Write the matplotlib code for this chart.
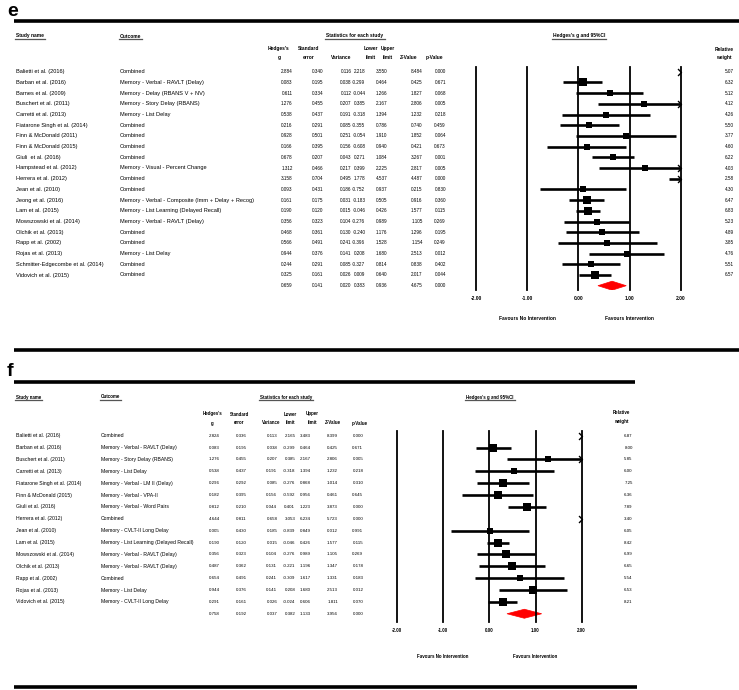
import matplotlib
matplotlib.use("Agg")
import matplotlib.pyplot as plt
from matplotlib import font_manager
from matplotlib.path import Path
from matplotlib.transforms import blended_transform_factory
import numpy as np

# ---------------- panel e ----------------
studies_e = ["Balietti et al. (2016)", "Barban et al. (2016)", "Barnes et al. (2009)",
             "Buschert et al. (2011)", "Carretti et al. (2013)", "Fiatarone Singh et al. (2014)",
             "Finn & McDonald (2011)", "Finn & McDonald (2015)", "Giuli  et al. (2016)",
             "Hampstead et al. (2012)", "Herrera et al. (2012)", "Jean et al. (2010)",
             "Jeong et al. (2016)", "Lam et al. (2015)", "Mowszowski et al. (2014)",
             "Olchik et al. (2013)", "Rapp et al. (2002)", "Rojas et al. (2013)",
             "Schmitter-Edgecombe et al. (2014)", "Vidovich et al. (2015)"]
outcomes_e = ["Combined", "Memory - Verbal - RAVLT (Delay)", "Memory - Delay (RBANS V + NV)",
              "Memory - Story Delay (RBANS)", "Memory - List Delay", "Combined", "Combined",
              "Combined", "Combined", "Memory - Visual - Percent Change", "Combined", "Combined",
              "Memory - Verbal - Composite (Imm + Delay + Recog)",
              "Memory - List Learning (Delayed Recall)", "Memory - Verbal - RAVLT (Delay)",
              "Combined", "Combined", "Memory - List Delay", "Combined", "Combined"]
g_e = [2.884, 0.083, 0.611, 1.276, 0.538, 0.216, 0.928, 0.166, 0.678, 1.312,
       3.158, 0.093, 0.161, 0.190, 0.356, 0.468, 0.566, 0.944, 0.244, 0.325]
se_e = [0.340, 0.195, 0.334, 0.455, 0.437, 0.291, 0.501, 0.395, 0.207, 0.466,
        0.704, 0.431, 0.175, 0.120, 0.323, 0.361, 0.491, 0.376, 0.291, 0.161]
var_e = [0.116, 0.038, 0.112, 0.207, 0.191, 0.085, 0.251, 0.156, 0.043, 0.217,
         0.495, 0.186, 0.031, 0.015, 0.104, 0.130, 0.241, 0.141, 0.085, 0.026]
lo_e = [2.218, -0.299, -0.044, 0.385, -0.318, -0.355, -0.054, -0.608, 0.271, 0.399,
        1.778, -0.752, -0.183, -0.046, -0.276, -0.240, -0.396, 0.208, -0.327, 0.009]
hi_e = [3.550, 0.464, 1.266, 2.167, 1.394, 0.786, 1.910, 0.940, 1.084, 2.225,
        4.537, 0.937, 0.505, 0.426, 0.989, 1.176, 1.528, 1.680, 0.814, 0.640]
z_e = [8.484, 0.425, 1.827, 2.806, 1.232, 0.740, 1.852, 0.421, 3.267, 2.817,
       4.487, 0.215, 0.916, 1.577, 1.105, 1.296, 1.154, 2.513, 0.838, 2.017]
p_e = [0.000, 0.671, 0.068, 0.005, 0.218, 0.459, 0.064, 0.673, 0.001, 0.005,
       0.000, 0.830, 0.360, 0.115, 0.269, 0.195, 0.249, 0.012, 0.402, 0.044]
w_e = [5.07, 6.32, 5.12, 4.12, 4.26, 5.50, 3.77, 4.60, 6.22, 4.03,
       2.58, 4.30, 6.47, 6.83, 5.23, 4.89, 3.85, 4.76, 5.51, 6.57]
summary_e = [0.659, 0.141, 0.020, 0.383, 0.936, 4.675, 0.000]

# ---------------- panel f ----------------
studies_f = ["Balietti et al. (2016)", "Barban et al. (2016)", "Buschert et al. (2011)",
             "Carretti et al. (2013)", "Fiatarone Singh et al. (2014)", "Finn & McDonald (2015)",
             "Giuli et al. (2016)", "Herrera et al. (2012)", "Jean et al. (2010)",
             "Lam et al. (2015)", "Mowszowski et al. (2014)", "Olchik et al. (2013)",
             "Rapp et al. (2002)", "Rojas et al. (2013)", "Vidovich et al. (2015)"]
outcomes_f = ["Combined", "Memory - Verbal - RAVLT (Delay)", "Memory - Story Delay (RBANS)",
              "Memory - List Delay", "Memory - Verbal - LM II (Delay)", "Memory - Verbal - VPA-II",
              "Memory - Verbal - Word Pairs", "Combined", "Memory - CVLT-II Long Delay",
              "Memory - List Learning (Delayed Recall)", "Memory - Verbal - RAVLT (Delay)",
              "Memory - Verbal - RAVLT (Delay)", "Combined", "Memory - List Delay",
              "Memory - CVLT-II Long Delay"]
g_f = [2.824, 0.083, 1.276, 0.538, 0.296, 0.182, 0.812, 4.644, 0.005, 0.190,
       0.356, 0.487, 0.654, 0.944, 0.291]
se_f = [0.336, 0.195, 0.455, 0.437, 0.292, 0.395, 0.210, 0.811, 0.430, 0.120,
        0.323, 0.362, 0.491, 0.376, 0.161]
var_f = [0.113, 0.038, 0.207, 0.191, 0.085, 0.156, 0.044, 0.658, 0.185, 0.015,
         0.104, 0.131, 0.241, 0.141, 0.026]
lo_f = [2.165, -0.299, 0.385, -0.318, -0.276, -0.592, 0.401, 3.053, -0.839, -0.046,
        -0.276, -0.221, -0.309, 0.208, -0.024]
hi_f = [3.483, 0.464, 2.167, 1.394, 0.868, 0.956, 1.223, 6.234, 0.849, 0.426,
        0.989, 1.196, 1.617, 1.680, 0.606]
z_f = [8.399, 0.425, 2.806, 1.232, 1.014, 0.461, 3.873, 5.723, 0.012, 1.577,
       1.105, 1.347, 1.331, 2.513, 1.811]
p_f = [0.000, 0.671, 0.005, 0.218, 0.310, 0.645, 0.000, 0.000, 0.991, 0.115,
       0.269, 0.178, 0.183, 0.012, 0.070]
w_f = [6.87, 8.00, 5.85, 6.00, 7.25, 6.36, 7.89, 3.40, 6.05, 8.42,
       6.99, 6.65, 5.54, 6.53, 8.21]
summary_f = [0.758, 0.192, 0.037, 0.382, 1.133, 3.956, 0.000]

col_heads = ["Hedges's\ng", "Standard\nerror", "Variance", "Lower\nlimit",
             "Upper\nlimit", "Z-Value", "p-Value"]
ticks = [-2, -1, 0, 1, 2]
tick_labels = ["-2.00", "-1.00", "0.00", "1.00", "2.00"]

# narrow font if there is one, else plain Arial-metric font a bit smaller
names = set(f.name for f in font_manager.fontManager.ttflist)
if "Liberation Sans Narrow" in names:
    FONT, FS = "Liberation Sans Narrow", 1.0
else:
    FONT, FS = "Liberation Sans", 0.82
plt.rcParams["font.family"] = [FONT, "DejaVu Sans"]

W, H = 739, 690
fig = plt.figure(figsize=(W / 100, H / 100), dpi=100)
bg = fig.add_axes([0, 0, 1, 1])
bg.set_xlim(0, W)
bg.set_ylim(H, 0)
bg.axis("off")

chev_r = Path([(-1, 1), (0, 0), (-1, -1)], [Path.MOVETO, Path.LINETO, Path.LINETO])
chev_l = Path([(1, 1), (0, 0), (1, -1)], [Path.MOVETO, Path.LINETO, Path.LINETO])

underline_me = []


def rule(y, x0, x1):
    bg.plot([x0, x1], [y, y], color="black", lw=2.6, solid_capstyle="butt")


def panel(studies, outcomes, stats, weights, summary, L):
    fs = L["fs"] * FS
    nfs = L["nfs"] * FS
    hfs = L["hfs"] * FS
    bg.text(7, L["label_y"], L["label"], fontsize=14, fontweight="bold",
            family="Liberation Sans", va="center")
    for y, x0, x1 in L["rules"]:
        rule(y, x0, x1)

    # headers
    for x, s, ha in [(L["name_x"], "Study name", "left"), (L["out_x"], "Outcome", "left"),
                     (L["stats_x"], "Statistics for each study", "center"),
                     (L["ci_x"], "Hedges's g and 95%CI", "center")]:
        t = bg.text(x, L["title_y"], s, ha=ha, va="center", fontsize=hfs, fontweight="bold")
        underline_me.append(t)
    for x, s in zip(L["head_x"], col_heads):
        parts = s.split("\n")
        if len(parts) == 2:
            bg.text(x, L["head_y1"], parts[0], ha="center", va="center", fontsize=hfs, fontweight="bold")
            bg.text(x, L["head_y2"], parts[1], ha="center", va="center", fontsize=hfs, fontweight="bold")
        else:
            bg.text(x, L["head_y2"], s, ha="center", va="center", fontsize=hfs, fontweight="bold")
    wx, wy1, wy2 = L["w_head"]
    bg.text(wx, wy1, "Relative", ha="center", va="center", fontsize=hfs, fontweight="bold")
    bg.text(wx, wy2, "weight", ha="center", va="center", fontsize=hfs, fontweight="bold")

    # table rows
    n = len(studies)
    for i in range(n):
        y = L["row0"] + i * L["step"]
        bg.text(L["name_x"], y, studies[i], va="center", fontsize=fs)
        bg.text(L["out_x"], y, outcomes[i], va="center", fontsize=fs)
        for x, col in zip(L["val_x"], stats):
            bg.text(x, y, "%.3f" % col[i], ha="right", va="center", fontsize=nfs)
        bg.text(L["w_x"], y, "%.2f" % weights[i], ha="right", va="center", fontsize=nfs)
    y = L["row0"] + n * L["step"]
    for x, v in zip(L["val_x"], summary):
        bg.text(x, y, "%.3f" % v, ha="right", va="center", fontsize=nfs)

    # forest plot
    left, right, top, bottom = L["forest"]
    fx = fig.add_axes([left / W, 1 - bottom / H, (right - left) / W, (bottom - top) / H])
    fx.set_xlim(-2, 2)
    fx.set_ylim((bottom - L["row0"]) / L["step"], (top - L["row0"]) / L["step"])
    fx.patch.set_visible(False)
    for s in fx.spines.values():
        s.set_visible(False)
    fx.set_yticks([])
    fx.set_xticks(ticks)
    fx.set_xticklabels(tick_labels, fontsize=hfs, fontweight="bold")
    fx.tick_params(axis="x", length=0, pad=L["tick_pad"])
    for t in ticks:
        fx.axvline(t, color="black", lw=1.3, clip_on=False)

    g, lo, hi = stats[0], stats[3], stats[4]
    for i in range(n):
        a, b = max(lo[i], -2), min(hi[i], 2)
        if a < b:
            fx.plot([a, b], [i, i], color="black", lw=1.9, solid_capstyle="butt", clip_on=False)
        if hi[i] > 2:
            fx.plot(2, i, marker=chev_r, ms=5, mfc="none", mec="black", mew=1.0, clip_on=False)
        if lo[i] < -2:
            fx.plot(-2, i, marker=chev_l, ms=5, mfc="none", mec="black", mew=1.0, clip_on=False)
        if -2 <= g[i] <= 2:
            fx.plot(g[i], i, marker="s", ms=L["ksq"] * np.sqrt(weights[i]) * 0.72,
                    color="black", mew=0, clip_on=False)
    d = L["dh"]
    fx.fill([summary[3], summary[0], summary[4], summary[0]], [n, n - d, n, n + d],
            color="red", lw=0.5, ec="red")

    tr = blended_transform_factory(fx.transData, bg.transData)
    bg.text(-1, L["fav_y"], "Favours No Intervention", transform=tr, ha="center",
            va="center", fontsize=hfs, fontweight="bold")
    bg.text(1, L["fav_y"], "Favours Intervention", transform=tr, ha="center",
            va="center", fontsize=hfs, fontweight="bold")


lay_e = dict(label="e", label_y=11, rules=[(20.7, 14, 739), (350, 14, 739)],
             fs=4.9, nfs=4.1, hfs=4.3,
             name_x=16, out_x=120, stats_x=355, ci_x=579, title_y=36,
             head_x=[279, 308.7, 340.7, 370.5, 387.5, 409, 434], head_y1=48.7, head_y2=57.3,
             w_head=(724, 49.3, 57.7),
             val_x=[292.7, 323, 351.7, 365.3, 387.3, 422.7, 446], w_x=734,
             row0=71.7, step=10.7, forest=(476, 680.7, 66.7, 290), tick_pad=4,
             fav_y=318.7, ksq=2.8, dh=0.42)
lay_f = dict(label="f", label_y=371, rules=[(381.7, 14, 635), (687, 14, 637)],
             fs=4.5, nfs=3.9, hfs=4.0,
             name_x=16, out_x=101, stats_x=286, ci_x=490, title_y=397,
             head_x=[212.7, 239.3, 271.7, 290.7, 312, 333.3, 359.7], head_y1=414, head_y2=423,
             w_head=(621, 413, 422),
             val_x=[220, 246.7, 277.3, 295.3, 311, 338, 363.3], w_x=632.7,
             row0=435.7, step=11.87, forest=(397, 581.7, 430.7, 622), tick_pad=4,
             fav_y=656, ksq=2.8, dh=0.38)

panel(studies_e, outcomes_e, [g_e, se_e, var_e, lo_e, hi_e, z_e, p_e], w_e, summary_e, lay_e)
panel(studies_f, outcomes_f, [g_f, se_f, var_f, lo_f, hi_f, z_f, p_f], w_f, summary_f, lay_f)

# underline the section titles
fig.canvas.draw()
r = fig.canvas.get_renderer()
inv = bg.transData.inverted()
for t in underline_me:
    bb = t.get_window_extent(renderer=r)
    (x0, y0), (x1, y1) = inv.transform([[bb.x0, bb.y0], [bb.x1, bb.y1]])
    bg.plot([x0 - 1, x1 + 1], [y0 + 0.8, y0 + 0.8], color="#555555", lw=0.9)

fig.savefig("out.png", dpi=100)
